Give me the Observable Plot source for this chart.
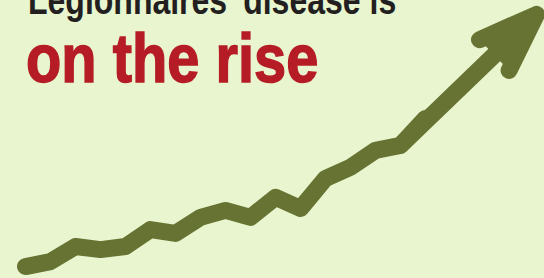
<!DOCTYPE html>
<html>
<head>
<meta charset="utf-8">
<script src="https://cdn.jsdelivr.net/npm/d3@7"></script>
<script src="https://cdn.jsdelivr.net/npm/@observablehq/plot@0.6"></script>
<style>
  html, body { margin: 0; padding: 0; background: #e8f5cf; }
  #wrap { position: relative; width: 544px; height: 278px; overflow: hidden; background: #e8f5cf; }
  #chart { position: absolute; left: 0; top: 0; }
  .t1 { position: absolute; left: 28px; top: -20px; font-family: "Liberation Sans", Arial, sans-serif; font-weight: bold; font-size: 40px; line-height: 40px; color: #231f20; white-space: nowrap; transform: scaleX(0.80); transform-origin: 0 0; }
  .t2 { position: absolute; left: 26px; top: 24px; font-family: "Liberation Sans", Arial, sans-serif; font-weight: bold; font-size: 68px; line-height: 68px; color: #b51c25; white-space: nowrap; transform: scaleX(0.85); transform-origin: 0 0; -webkit-text-stroke: 1.5px #b51c25; }
</style>
</head>
<body>
<div id="wrap">
  <div id="chart"></div>
  <div class="t1">Legionnaires’ disease is</div>
  <div class="t2">on the rise</div>
</div>
<script>
const years = [2000, 2001, 2002, 2003, 2004, 2005, 2006, 2007, 2008, 2009, 2010, 2011, 2012, 2013, 2014, 2015, 2016];
const values = [430, 610, 1150, 1040, 1150, 1760, 1620, 2200, 2450, 2200, 2920, 2520, 3600, 4000, 4610, 4790, 5760];
const arrowFromYear = 2015;
const arrowFromValue = 4790;
const tipYear = 2020.44;
const tipValue = 9500;

const data = years.map((y, i) => ({year: y, value: values[i]}));
const lineColor = "#667333";

const plot = Plot.plot({
  width: 544,
  height: 278,
  margin: 0,
  x: {axis: null, domain: [1999, 2020.76]},
  y: {axis: null, domain: [0, 10000]},
  style: {background: "transparent"},
  marks: [
    Plot.line(data, {x: "year", y: "value", stroke: lineColor, strokeWidth: 17, strokeLinejoin: "round", strokeLinecap: "round"}),
    Plot.arrow([{x1: arrowFromYear, y1: arrowFromValue, x2: tipYear, y2: tipValue}], {
      x1: "x1", y1: "y1", x2: "x2", y2: "y2",
      stroke: lineColor, fill: lineColor, strokeWidth: 17,
      strokeLinejoin: "round", strokeLinecap: "round",
      headLength: 5.5, headAngle: 40
    })
  ]
});
document.getElementById("chart").appendChild(plot);
</script>
</body>
</html>
